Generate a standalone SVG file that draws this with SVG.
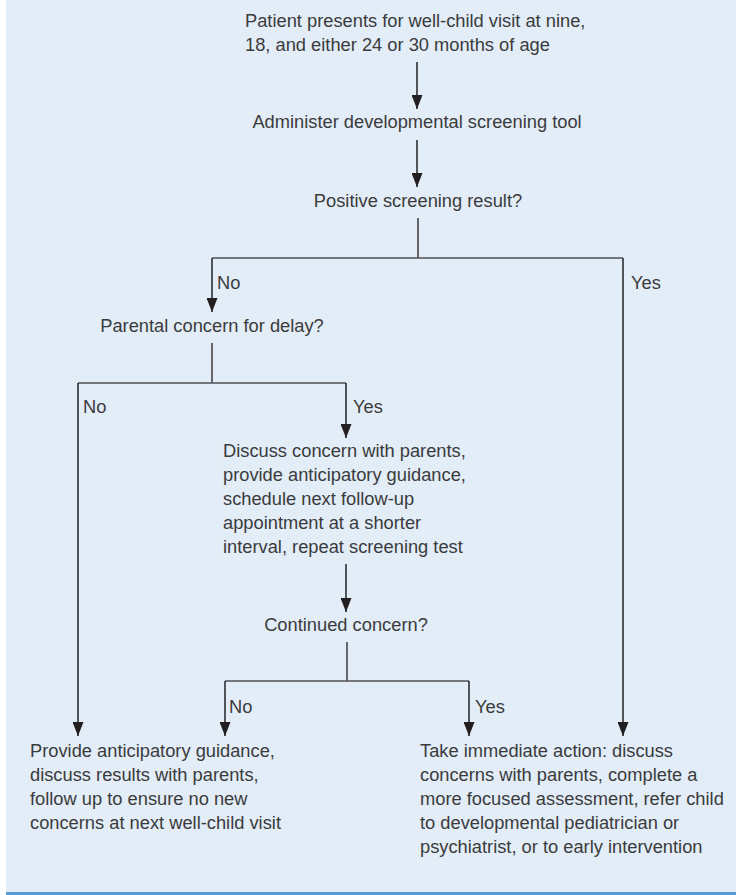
<svg xmlns="http://www.w3.org/2000/svg" width="736" height="895" viewBox="0 0 736 895">
  <defs>
    <marker id="ah" markerUnits="userSpaceOnUse" markerWidth="14" markerHeight="11" refX="14" refY="5.5" orient="auto">
      <path d="M0,0 L14,5.5 L0,11 z" fill="#231f20"/>
    </marker>
    <style>
      text { font-family: "Liberation Sans", Arial, sans-serif; font-size: 18.3px; fill: #3b3b3d; }
      .ln { fill: none; stroke: #4f4f52; stroke-width: 1.7; }
      .ar { fill: none; stroke: #2e2e30; stroke-width: 1.6; marker-end: url(#ah); }
      .mid { text-anchor: middle; }
    </style>
  </defs>
  <rect x="6" y="0" width="730" height="892" fill="#e2edf7"/>
  <rect x="6" y="892" width="730" height="3" fill="#5a9bd3"/>

  <g id="connectors">
    <path class="ar" d="M417 62 V109"/>
    <path class="ar" d="M417 140 V187"/>
    <path class="ln" d="M418 218 V258 M212 258 H623"/>
    <path class="ar" d="M212 258 V312"/>
    <path class="ar" d="M623 258 V736"/>
    <path class="ln" d="M212 343 V383 M78 383 H346"/>
    <path class="ar" d="M78 383 V736"/>
    <path class="ar" d="M346 383 V438"/>
    <path class="ar" d="M346 564 V612"/>
    <path class="ln" d="M347 642 V681 M225 681 H469"/>
    <path class="ar" d="M225 681 V736"/>
    <path class="ar" d="M469 681 V736"/>
  </g>

  <g id="labels">
    <text x="217" y="289">No</text>
    <text x="631" y="289">Yes</text>
    <text x="83" y="413">No</text>
    <text x="353" y="413">Yes</text>
    <text x="229" y="713">No</text>
    <text x="475" y="713">Yes</text>
  </g>

  <g id="n-start">
    <text x="245" y="27">Patient presents for well-child visit at nine,</text>
    <text x="245" y="51">18, and either 24 or 30 months of age</text>
  </g>
  <g id="n-administer">
    <text class="mid" x="417" y="128">Administer developmental screening tool</text>
  </g>
  <g id="n-positive">
    <text class="mid" x="418" y="207">Positive screening result?</text>
  </g>
  <g id="n-parental">
    <text class="mid" x="212" y="332">Parental concern for delay?</text>
  </g>
  <g id="n-discuss">
    <text x="223" y="457">Discuss concern with parents,</text>
    <text x="223" y="481">provide anticipatory guidance,</text>
    <text x="223" y="505">schedule next follow-up</text>
    <text x="223" y="529">appointment at a shorter</text>
    <text x="223" y="553">interval, repeat screening test</text>
  </g>
  <g id="n-continued">
    <text class="mid" x="346" y="631">Continued concern?</text>
  </g>
  <g id="n-guidance">
    <text x="30" y="757">Provide anticipatory guidance,</text>
    <text x="30" y="781">discuss results with parents,</text>
    <text x="30" y="805">follow up to ensure no new</text>
    <text x="30" y="829">concerns at next well-child visit</text>
  </g>
  <g id="n-action">
    <text x="420" y="757">Take immediate action: discuss</text>
    <text x="420" y="781">concerns with parents, complete a</text>
    <text x="420" y="805">more focused assessment, refer child</text>
    <text x="420" y="829">to developmental pediatrician or</text>
    <text x="420" y="853">psychiatrist, or to early intervention</text>
  </g>
</svg>
